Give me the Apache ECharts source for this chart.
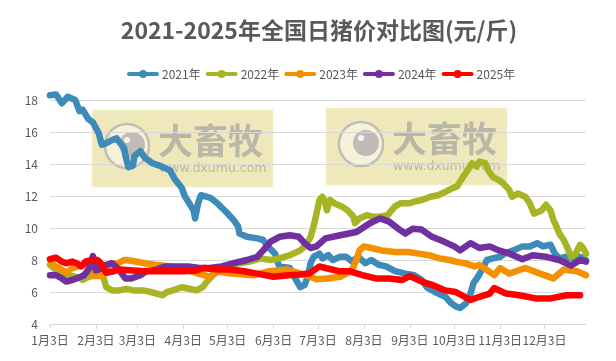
<!DOCTYPE html>
<html><head><meta charset="utf-8">
<script src="https://cdn.jsdelivr.net/npm/echarts@6/dist/echarts.min.js"></script>
<style>html,body{margin:0;padding:0;background:#fff}#c{width:616px;height:361px}</style>
</head><body><div id="c"></div>
<script>
// x = day offset from 1月3日 (non-leap year), y = 元/斤
const tickDays = [0,31,59,90,120,151,181,212,243,273,304,334];
const tickLabels = ['1月3日','2月3日','3月3日','4月3日','5月3日','6月3日','7月3日','8月3日','9月3日','10月3日','11月3日','12月3日'];
const seriesNames = ['2021年','2022年','2023年','2024年','2025年'];
const colors = ['#3E8AB8','#A7B524','#F59100','#7030A0','#FF0000'];

const y2021 = [[0,18.3],[4,18.35],[8,17.8],[12,18.2],[17,18.0],[20,17.3],[22,17.4],[26,16.8],[29,16.6],[33,15.9],[35,15.2],[38,15.3],[42,15.5],[45,15.6],[50,15.0],[51,14.5],[53,13.8],[56,13.9],[57,14.5],[61,14.8],[64,14.4],[69,14.05],[74,13.9],[81,13.6],[84,13.1],[89,12.5],[91,12.0],[97,11.1],[98,10.6],[100,11.55],[102,12.05],[106,11.95],[109,11.85],[113,11.55],[119,11.0],[124,10.5],[127,10.1],[128,9.65],[133,9.45],[140,9.35],[144,9.25],[147,8.85],[152,8.4],[153,8.0],[155,7.6],[162,7.5],[165,6.95],[169,6.3],[172,6.45],[174,6.95],[176,7.8],[178,8.2],[182,8.4],[184,8.1],[188,8.3],[191,8.0],[196,8.2],[200,8.2],[204,7.9],[208,8.2],[213,7.8],[217,8.0],[222,7.7],[227,7.6],[233,7.3],[240,7.15],[246,7.05],[251,6.75],[255,6.25],[260,6.0],[267,5.7],[271,5.3],[274,5.1],[277,5.0],[281,5.3],[284,5.9],[286,6.55],[289,6.95],[293,7.6],[295,8.0],[299,8.1],[304,8.2],[307,8.4],[313,8.6],[319,8.85],[324,8.85],[329,9.05],[333,8.85],[338,8.95],[341,8.4],[344,8.1],[349,8.2],[353,8.1],[358,8.2],[362,8.0]];
const y2022 = [[0,7.7],[5,7.3],[10,7.1],[15,7.0],[20,6.9],[22,6.75],[26,6.95],[31,7.05],[34,7.2],[36,6.95],[38,6.3],[42,6.1],[47,6.1],[52,6.2],[56,6.1],[63,6.1],[68,6.0],[72,5.9],[76,5.8],[79,6.0],[83,6.1],[89,6.3],[94,6.2],[99,6.1],[103,6.3],[106,6.65],[110,7.05],[115,7.4],[121,7.7],[128,7.8],[135,7.9],[142,8.1],[149,8.0],[155,8.1],[162,8.3],[169,8.6],[173,8.95],[176,9.45],[178,10.1],[180,10.9],[182,11.75],[184,11.95],[186,11.55],[187,11.1],[189,11.75],[192,11.55],[197,11.35],[201,11.1],[205,10.7],[206,10.3],[209,10.6],[214,10.8],[218,10.7],[223,10.7],[228,10.8],[233,11.35],[237,11.55],[243,11.55],[246,11.65],[251,11.75],[257,11.95],[262,12.05],[268,12.3],[272,12.5],[275,12.6],[279,13.2],[282,13.6],[285,14.05],[288,13.85],[290,14.15],[294,14.05],[296,13.6],[299,13.2],[303,13.0],[306,12.8],[310,12.4],[312,11.95],[316,12.15],[321,11.95],[324,11.55],[327,10.9],[332,11.1],[335,11.45],[338,11.1],[340,10.5],[342,10.1],[344,9.65],[347,9.25],[349,8.85],[352,8.2],[355,8.4],[358,8.95],[360,8.75],[362,8.4]];
const y2023 = [[0,8.0],[3,7.65],[8,7.4],[11,7.2],[15,7.5],[19,7.6],[24,7.7],[28,7.3],[30,7.0],[34,7.0],[36,7.05],[40,7.7],[46,7.8],[50,8.0],[55,7.95],[64,7.8],[71,7.7],[82,7.6],[91,7.4],[95,7.3],[100,7.15],[104,7.05],[108,6.95],[112,7.3],[122,7.15],[131,7.1],[138,7.05],[148,7.3],[160,7.4],[173,7.05],[180,6.8],[187,6.85],[196,6.95],[203,7.3],[205,7.6],[207,8.0],[209,8.6],[212,8.85],[217,8.75],[224,8.6],[233,8.5],[242,8.5],[249,8.4],[256,8.3],[263,8.1],[270,8.0],[274,7.9],[280,7.8],[287,7.6],[290,7.7],[300,7.05],[304,7.5],[310,7.15],[321,7.5],[331,7.15],[340,6.85],[347,7.4],[356,7.3],[362,7.05]];
const y2024 = [[0,7.05],[4,7.05],[8,6.85],[11,6.65],[15,6.75],[18,6.85],[23,7.05],[26,7.4],[29,8.25],[31,7.35],[33,7.4],[38,7.7],[42,7.8],[46,7.45],[51,6.85],[55,6.85],[61,7.05],[65,7.3],[72,7.4],[78,7.6],[86,7.6],[93,7.6],[101,7.5],[108,7.5],[116,7.6],[124,7.8],[133,8.0],[140,8.2],[144,8.6],[149,9.15],[155,9.45],[162,9.55],[168,9.45],[172,9.05],[176,8.75],[180,8.85],[186,9.35],[196,9.55],[207,9.75],[216,10.3],[223,10.6],[229,10.4],[236,9.9],[240,9.65],[245,9.95],[251,9.9],[258,9.45],[266,9.15],[273,8.85],[277,8.6],[284,9.05],[290,8.75],[297,8.85],[303,8.6],[309,8.45],[319,8.05],[326,8.3],[335,8.2],[344,8.0],[352,7.65],[358,8.0],[362,7.9]];
const y2025 = [[0,8.05],[4,8.15],[8,7.9],[11,7.8],[15,7.9],[18,7.8],[21,7.6],[24,7.9],[28,8.0],[32,8.0],[34,7.85],[36,7.5],[38,7.2],[43,7.3],[47,7.4],[56,7.35],[64,7.3],[77,7.3],[90,7.3],[99,7.35],[104,7.5],[108,7.45],[113,7.4],[122,7.4],[131,7.3],[140,7.15],[151,6.95],[161,7.05],[169,7.1],[175,7.15],[182,7.6],[186,7.5],[195,7.3],[202,7.3],[211,7.05],[220,6.85],[229,6.85],[238,6.75],[243,7.0],[251,6.65],[258,6.45],[267,6.1],[274,6.0],[284,5.5],[290,5.7],[297,5.9],[300,6.25],[308,5.9],[317,5.8],[328,5.6],[338,5.6],[349,5.8],[358,5.8]];
const allData = [y2021, y2022, y2023, y2024, y2025];

const chart = echarts.init(document.getElementById('c'), null, {renderer:'canvas'});
const txt = '#595959';
function watermark(left, top) {
  return {type:'group', left:left, top:top, z:100, children:[
    {type:'rect', shape:{x:0,y:0,width:181,height:77}, style:{fill:'rgba(230,215,102,0.4)', shadowBlur:4, shadowColor:'rgba(0,0,0,0.12)'}},
    {type:'circle', shape:{cx:35,cy:36,r:22}, style:{fill:'rgba(255,255,255,0.45)', stroke:'rgba(175,175,175,0.75)', lineWidth:2.5}},
    {type:'circle', shape:{cx:40,cy:35,r:13}, style:{fill:'rgba(165,165,165,0.7)'}},
    {type:'circle', shape:{cx:35,cy:30,r:3}, style:{fill:'rgba(255,255,255,0.85)'}},
    {type:'text', x:66, y:13, style:{text:'大畜牧', font:'bold 35px "Noto Sans CJK SC"', fill:'rgba(150,150,150,0.6)'}},
    {type:'text', x:67, y:52, style:{text:'www.dxumu.com', font:'12.5px "DejaVu Sans"', fill:'rgba(150,150,150,0.6)'}}
  ]};
}
chart.setOption({
  animation:false,
  backgroundColor:'#fff',
  color: colors,
  title:{text:'2021-2025年全国日猪价对比图(元/斤)', left:314, textAlign:'center', top:14,
    textStyle:{color:txt, fontSize:23, fontWeight:'bold', fontFamily:'"Noto Sans CJK SC", sans-serif'}},
  legend:{left:122, top:63, itemWidth:28, itemHeight:10, itemGap:5,
    lineStyle:{width:4},
    textStyle:{color:txt, fontSize:12, fontFamily:'"Noto Sans CJK SC", sans-serif'},
    data: seriesNames},
  grid:{left:50, right:30, top:100, bottom:37},
  xAxis:{type:'value', min:0, max:362,
    axisLine:{lineStyle:{color:'#d9d9d9'}},
    axisTick:{show:true, customValues:tickDays, length:5, lineStyle:{color:'#d9d9d9'}},
    axisLabel:{customValues:tickDays, color:txt, fontSize:12, margin:10,
      fontFamily:'"Noto Sans CJK SC", sans-serif',
      formatter:function(v){const i = tickDays.indexOf(Math.round(v)); return i>=0 ? tickLabels[i] : '';}},
    splitLine:{show:false}},
  yAxis:{type:'value', min:4, max:18, interval:2,
    axisLine:{show:false}, axisTick:{show:false},
    axisLabel:{color:txt, fontSize:12, margin:12, fontFamily:'"Noto Sans CJK SC", sans-serif'},
    splitLine:{lineStyle:{color:'#d9d9d9'}}},
  graphic: [watermark(92,110), watermark(326,108)],
  series: seriesNames.map((n,i)=>({
    name:n, type:'line', data:allData[i], symbol:'circle', symbolSize:8, showSymbol:false, clip:false,
    lineStyle:{width:6.5, color:colors[i], cap:'round', join:'round'},
    itemStyle:{color:colors[i]}, z:2+i
  }))
});
</script></body></html>
